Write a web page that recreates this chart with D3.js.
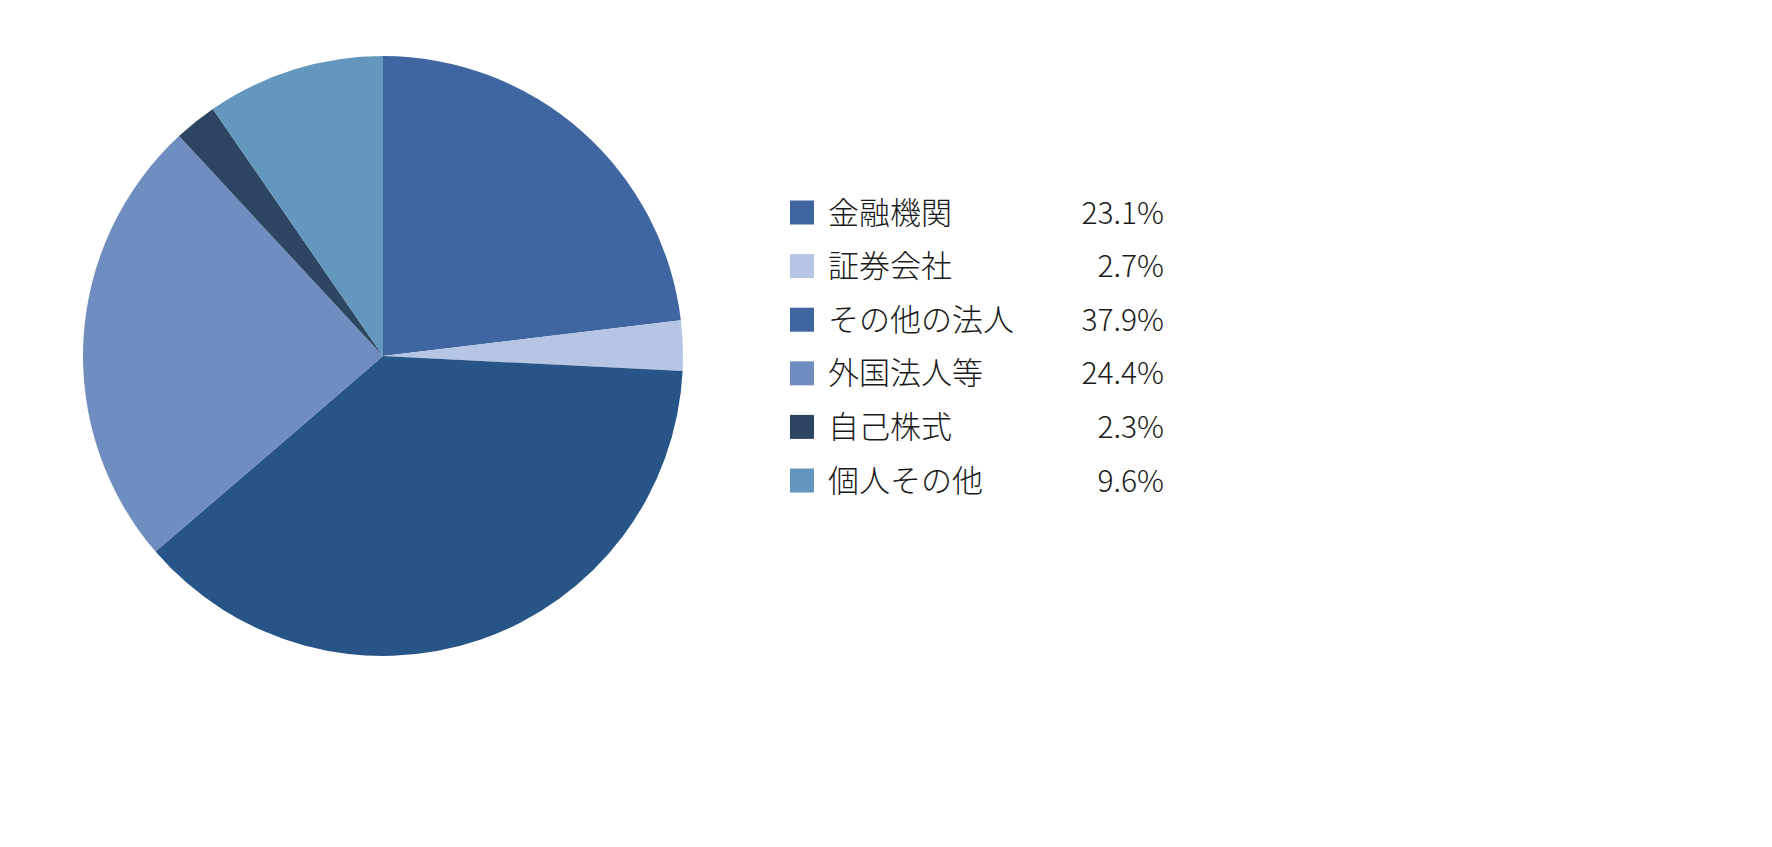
<!DOCTYPE html>
<html lang="ja">
  <head>
    <meta charset="UTF-8" />
    <title>所有者別株式分布</title>
    <style>
      body {
        margin: 0;
        background: #ffffff;
      }
      .legend text {
        font-family: "Noto Sans CJK JP", "Noto Sans", sans-serif;
        font-size: 31px;
        font-weight: 300;
        fill: #1a1a1a;
      }
      .legend text.pct {
        font-size: 30px;
      }
    </style>
  </head>
  <body>
    <svg id="svg" width="1772" height="847"></svg>
    <script src="https://cdn.jsdelivr.net/npm/d3@7"></script>
    <script>
      // data
      const categories = ["金融機関", "証券会社", "その他の法人", "外国法人等", "自己株式", "個人その他"];
      const shares = [23.1, 2.7, 37.9, 24.4, 2.3, 9.6];
      const valueLabels = ["23.1%", "2.7%", "37.9%", "24.4%", "2.3%", "9.6%"];

      // slice colours, and the legend swatches (the third swatch differs from its slice in the original)
      const sliceColors = ["#4066a1", "#b5c5e3", "#285587", "#6f8ebf", "#2b4563", "#6397bd"];
      const swatchColors = ["#4066a1", "#b5c5e3", "#4066a1", "#6f8ebf", "#2b4563", "#6397bd"];

      const width = 1772;
      const height = 847;
      const cx = 383;
      const cy = 356;
      const radius = 300;

      const svg = d3.select("#svg").attr("width", width).attr("height", height);

      const data = categories.map((c, i) => ({ name: c, value: shares[i], label: valueLabels[i], i: i }));

      // Pie, clockwise from 12 o'clock, kept in data order
      const pie = d3
        .pie()
        .value((d) => d.value)
        .sort(null);

      const arc = d3.arc().innerRadius(0).outerRadius(radius);

      svg
        .append("g")
        .attr("transform", `translate(${cx},${cy})`)
        .selectAll("path")
        .data(pie(data))
        .enter()
        .append("path")
        .attr("d", arc)
        .attr("fill", (d) => sliceColors[d.data.i]);

      // Legend
      const rowY = d3
        .scaleLinear()
        .domain([0, categories.length - 1])
        .range([212.5, 480.5]);

      const legend = svg.append("g").attr("class", "legend");

      const rows = legend
        .selectAll("g")
        .data(data)
        .enter()
        .append("g")
        .attr("transform", (d) => `translate(0,${rowY(d.i)})`);

      rows
        .append("rect")
        .attr("x", 790)
        .attr("y", -12)
        .attr("width", 24)
        .attr("height", 24)
        .attr("fill", (d) => swatchColors[d.i]);

      rows
        .append("text")
        .attr("x", 828)
        .attr("y", 11)
        .text((d) => d.name);

      rows
        .append("text")
        .attr("class", "pct")
        .attr("x", 1164)
        .attr("y", 11)
        .attr("text-anchor", "end")
        .text((d) => d.label);
    </script>
  </body>
</html>
